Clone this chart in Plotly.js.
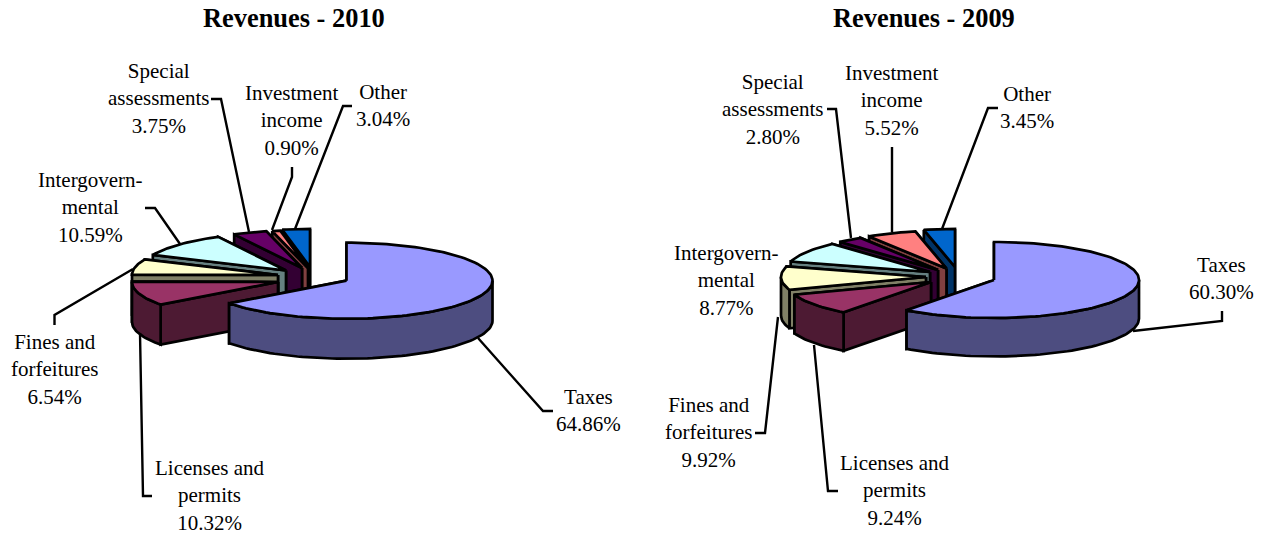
<!DOCTYPE html>
<html>
<head>
<meta charset="utf-8">
<script src="https://cdn.plot.ly/plotly-3.0.1.min.js"></script>
<style>html,body{margin:0;padding:0;background:#fff}#chart{width:1261px;height:536px}</style>
</head>
<body>
<div id="chart"></div>
<script>
// ---- data ----
const categories = ['Taxes','Licenses and permits','Fines and forfeitures','Intergovernmental','Special assessments','Investment income','Other'];
const labelLines = ['Taxes','Licenses and<br>permits','Fines and<br>forfeitures','Intergovern-<br>mental','Special<br>assessments','Investment<br>income','Other'];
const values2010 = [64.86,10.32,6.54,10.59,3.75,0.90,3.04];
const values2009 = [60.30,9.24,9.92,8.77,2.80,5.52,3.45];
const title2010 = 'Revenues - 2010';
const title2009 = 'Revenues - 2009';

// ---- styles ----
const topColors  = ['#9999FF','#993366','#FFFFCC','#CCFFFF','#660066','#FF8080','#0066CC'];
const wallColors = ['#4D4D80','#4D1A33','#808066','#668080','#330033','#804040','#003366'];
const FONT = '"Liberation Serif","Times New Roman",serif';
const LABEL_SIZE = 21, TITLE_SIZE = 26.4;

// ---- layout of each pie: exploded slice apex positions, radii, labels, leader lines ----
const geom2010 = {
  a:146, b:38, depth:40,
  apexX:[346.5,278,278,286,302,308,310],
  apexY:[280.7,282,275,270.5,268,268,267],
  labelX:[588,209.5,54.7,90.7,158.7,291.7,382.7],
  labelY:[410,495.7,369.7,207,98,120.7,105],
  leaderX:[[478,543,553],[140,143,152],[133,54.5,54.5],[180,155,145],[249,221,211],[272,292,292],[295,343,352]],
  leaderY:[[338,411,411],[333,496,496],[269,315,325],[244,208,208],[232,99,99],[230,177,167],[229,106,106]]
};
const geom2009 = {
  a:145, b:38, depth:38.5,
  apexX:[994,931,926,930,938,946.5,955],
  apexY:[280,282,277,272,270,268.5,267],
  labelX:[1221.7,895,708,726,773,891.7,1026.7],
  labelY:[278.5,490.7,432,280,109,100.7,107],
  leaderX:[[1133,1222,1222],[814,828,838],[778,765,755],[],[851,836,827],[892,892],[942,988,998]],
  leaderY:[[331,321,311],[345,491,491],[317,433,433],[],[238,109,109],[232,147],[229,108,108]]
};

function rim(g,i,deg){
  const t = deg*Math.PI/180;
  return [g.apexX[i]+g.a*Math.sin(t), g.apexY[i]-g.b*Math.cos(t)];
}
function poly(xs,ys,color){
  return {type:'scatter',mode:'lines',x:xs,y:ys,fill:'toself',fillcolor:color,
          line:{color:'#000',width:2.7},hoverinfo:'skip',showlegend:false};
}
function arcPts(g,i,from,to){
  const n = Math.max(2,Math.ceil(Math.abs(to-from)/2));
  const out=[];
  for(let k=0;k<=n;k++) out.push(rim(g,i,from+(to-from)*k/n));
  return out;
}
function sideWall(g,i,deg){
  const p=rim(g,i,deg), ax=g.apexX[i], ay=g.apexY[i], d=g.depth;
  return [[ax,p[0],p[0],ax,ax],[ay,p[1],p[1]+d,ay+d,ay]];
}
function slices(values,g){
  const total = values.reduce((s,v)=>s+v,0);
  let acc=0;
  const spans = values.map(v=>{const s=acc; acc+=v/total*360; return [s,acc];});
  const traces=[];
  for(let i=values.length-1;i>=0;i--){
    const [s,e]=spans[i];
    const ew=sideWall(g,i,e), sw=sideWall(g,i,s);
    traces.push(poly(ew[0],ew[1],wallColors[i]));
    traces.push(poly(sw[0],sw[1],wallColors[i]));
    const lo=Math.max(s,90), hi=Math.min(e,270);
    if(hi>lo){
      const arc=arcPts(g,i,lo,hi);
      const xs=arc.map(p=>p[0]).concat(arc.slice().reverse().map(p=>p[0]));
      const ys=arc.map(p=>p[1]).concat(arc.slice().reverse().map(p=>p[1]+g.depth));
      xs.push(xs[0]); ys.push(ys[0]);
      traces.push(poly(xs,ys,wallColors[i]));
    }
    const arc=arcPts(g,i,s,e);
    const xs=[g.apexX[i]].concat(arc.map(p=>p[0]),[g.apexX[i]]);
    const ys=[g.apexY[i]].concat(arc.map(p=>p[1]),[g.apexY[i]]);
    traces.push(poly(xs,ys,topColors[i]));
  }
  return traces;
}
function leaders(g){
  return g.leaderX.map((x,i)=>({type:'scatter',mode:'lines',x:x,y:g.leaderY[i],
      line:{color:'#000',width:2.4},hoverinfo:'skip',showlegend:false,name:categories[i]}))
    .filter(t=>t.x.length);
}
function labels(values,g){
  return values.map((v,i)=>({
    x:g.labelX[i],y:g.labelY[i],xref:'x',yref:'y',showarrow:false,
    xanchor:'center',yanchor:'middle',align:'center',
    text:labelLines[i]+'<br>'+v.toFixed(2)+'%',
    font:{family:FONT,size:LABEL_SIZE,color:'#000'}
  }));
}
function titleAnn(text,x){
  return {x:x,y:17.5,xref:'x',yref:'y',showarrow:false,xanchor:'center',yanchor:'middle',
    text:'<b>'+text+'</b>',font:{family:FONT,size:TITLE_SIZE,color:'#000'}};
}

const data = [].concat(slices(values2010,geom2010),leaders(geom2010),slices(values2009,geom2009),leaders(geom2009));
const layout = {
  width:1261,height:536,margin:{l:0,r:0,t:0,b:0},
  paper_bgcolor:'#fff',plot_bgcolor:'#fff',showlegend:false,hovermode:false,
  xaxis:{range:[0,1261],visible:false,fixedrange:true},
  yaxis:{range:[536,0],visible:false,fixedrange:true},
  annotations:[titleAnn(title2010,294),titleAnn(title2009,923.5)]
    .concat(labels(values2010,geom2010),labels(values2009,geom2009))
};
Plotly.newPlot('chart',data,layout,{displayModeBar:false,staticPlot:true});
</script>
</body>
</html>
